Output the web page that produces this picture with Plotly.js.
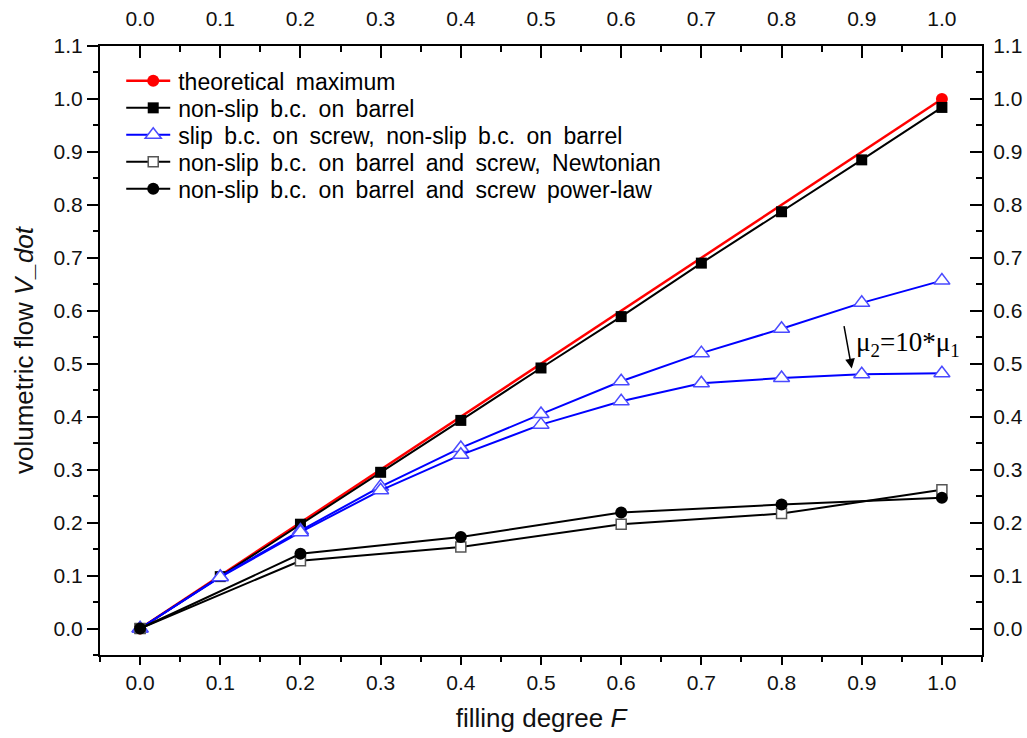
<!DOCTYPE html>
<html>
<head>
<meta charset="utf-8">
<script src="https://cdn.plot.ly/plotly-3.0.1.min.js"></script>
<style>html,body{margin:0;padding:0;background:#fff;}#chart{width:1027px;height:738px;}</style>
</head>
<body>
<div id="chart"></div>
<script>
// Data
const theoreticalF = [0.0, 1.0];
const theoreticalV = [0.0, 1.0];

const fillingF = [0.0, 0.1, 0.2, 0.3, 0.4, 0.5, 0.6, 0.7, 0.8, 0.9, 1.0];
const nonSlipBarrelV = [0.0, 0.098, 0.197, 0.295, 0.393, 0.492, 0.589, 0.690, 0.787, 0.885, 0.984];
const slipScrewV = [0.0, 0.098, 0.185, 0.268, 0.341, 0.405, 0.467, 0.520, 0.566, 0.615, 0.657];
const slipScrewMu10V = [0.0, 0.097, 0.182, 0.261, 0.328, 0.385, 0.429, 0.463, 0.473, 0.480, 0.482];

const coarseF = [0.0, 0.2, 0.4, 0.6, 0.8, 1.0];
const newtonianV = [0.0, 0.128, 0.154, 0.197, 0.217, 0.262];
const powerLawV = [0.0, 0.141, 0.173, 0.219, 0.234, 0.247];

const tickVals = [0.0, 0.1, 0.2, 0.3, 0.4, 0.5, 0.6, 0.7, 0.8, 0.9, 1.0, 1.1];
const tickText = ['0.0','0.1','0.2','0.3','0.4','0.5','0.6','0.7','0.8','0.9','1.0','1.1'];

const names = [
  'theoretical maximum',
  'non-slip b.c. on barrel',
  'slip b.c. on screw, non-slip b.c. on barrel',
  'non-slip b.c. on barrel and screw, Newtonian',
  'non-slip b.c. on barrel and screw power-law'
];

const triMarker = {symbol: 'triangle-up', size: 14, color: '#ffffff', line: {color: '#4a4aff', width: 1.5}};

const traces = [
  {x: theoreticalF, y: theoreticalV, name: names[0], mode: 'lines+markers',
   line: {color: '#ff0000', width: 2.5}, marker: {symbol: 'circle', size: 12, color: '#ff0000'}},
  {x: fillingF, y: nonSlipBarrelV, name: names[1], mode: 'lines+markers',
   line: {color: '#000000', width: 2}, marker: {symbol: 'square', size: 11, color: '#000000'}},
  {x: fillingF, y: slipScrewV, name: names[2], mode: 'lines+markers',
   line: {color: '#0000ff', width: 2}, marker: triMarker},
  {x: fillingF, y: slipScrewMu10V, name: names[2], showlegend: false, mode: 'lines+markers',
   line: {color: '#0000ff', width: 2}, marker: triMarker},
  {x: coarseF, y: newtonianV, name: names[3], mode: 'lines+markers',
   line: {color: '#000000', width: 2}, marker: {symbol: 'square', size: 10, color: '#ffffff', line: {color: '#555555', width: 1.5}}},
  {x: coarseF, y: powerLawV, name: names[4], mode: 'lines+markers',
   line: {color: '#000000', width: 2}, marker: {symbol: 'circle', size: 12, color: '#000000'}},
  {x: [0], y: [0], xaxis: 'x2', yaxis: 'y2', showlegend: false, hoverinfo: 'skip', mode: 'markers', marker: {opacity: 0}}
];

const sans = 'Liberation Sans, Arial, sans-serif';
const tickFont = {family: sans, size: 21, color: '#111111'};
const minorOut = {dtick: 0.05, tick0: -0.05, ticklen: 5, tickwidth: 2, tickcolor: '#000000', showgrid: false};
const minorIn = {dtick: 0.05, tick0: -0.05, ticklen: 6, tickwidth: 2, tickcolor: '#000000', ticks: 'inside', showgrid: false};
const common = {
  tickvals: tickVals, ticktext: tickText, showgrid: false, zeroline: false,
  showline: true, linecolor: '#000000', linewidth: 2, tickcolor: '#000000', tickwidth: 2,
  tickfont: tickFont
};

const layout = {
  width: 1027, height: 738,
  margin: {l: 100, r: 45, t: 46, b: 83},
  paper_bgcolor: '#ffffff', plot_bgcolor: '#ffffff',
  showlegend: true,
  legend: {x: 0.032, y: 0.978, xanchor: 'left', yanchor: 'top', bgcolor: 'rgba(0,0,0,0)',
           itemwidth: 40,
           font: {family: sans, size: 23, color: '#000000'},
           tracegroupgap: 0},
  xaxis: Object.assign({}, common, {range: [-0.05, 1.05], side: 'bottom', ticks: 'outside', ticklen: 8,
    minor: minorOut,
    title: {text: 'filling degree <i>F</i>', font: {family: sans, size: 26, color: '#111111'}, standoff: 16}}),
  xaxis2: Object.assign({}, common, {range: [-0.05, 1.05], side: 'top', overlaying: 'x', ticks: 'inside', ticklen: 12,
    ticklabelstandoff: 10, minor: minorIn}),
  yaxis: Object.assign({}, common, {range: [-0.05, 1.1], side: 'left', ticks: 'outside', ticklen: 11,
    minor: minorOut,
    title: {text: 'volumetric flow <i>V_dot</i>', font: {family: sans, size: 26, color: '#111111'}, standoff: 12}}),
  yaxis2: Object.assign({}, common, {range: [-0.05, 1.1], side: 'right', overlaying: 'y', ticks: 'inside', ticklen: 12,
    ticklabelstandoff: 5, minor: minorIn}),
  annotations: [
    {x: 0.8876, y: 0.491, xref: 'x', yref: 'y', text: '', showarrow: true, arrowhead: 2, arrowsize: 1.3,
     arrowwidth: 1.5, arrowcolor: '#000000', ax: -8, ay: -44},
    {x: 0.958, y: 0.538, xref: 'x', yref: 'y', showarrow: false,
     text: 'μ<sub>2</sub>=10*μ<sub>1</sub>', font: {family: 'Liberation Serif, Times New Roman, serif', size: 27, color: '#000000'}}
  ]
};

Plotly.newPlot('chart', traces, layout, {staticPlot: true, displayModeBar: false}).then(function (gd) {
  // tighten legend row spacing to match the reference and lengthen the key lines
  const items = gd.querySelectorAll('.legend .traces');
  let y0 = null;
  items.forEach(function (g, i) {
    const m = /translate\(([-\d.]+),\s*([-\d.]+)\)/.exec(g.getAttribute('transform') || '');
    if (!m) return;
    if (y0 === null) y0 = parseFloat(m[2]);
    g.setAttribute('transform', 'translate(' + m[1] + ',' + (y0 + i * 27) + ')');
  });
  gd.querySelectorAll('.legend .legendlines path').forEach(function (p) {
    p.setAttribute('d', 'M-2,0h44');
  });
  gd.querySelectorAll('.legend .legendtext').forEach(function (t) {
    t.style.wordSpacing = '5px';
  });
  gd.querySelectorAll('.legend [clip-path]').forEach(function (el) {
    el.removeAttribute('clip-path');
  });
});
</script>
</body>
</html>
